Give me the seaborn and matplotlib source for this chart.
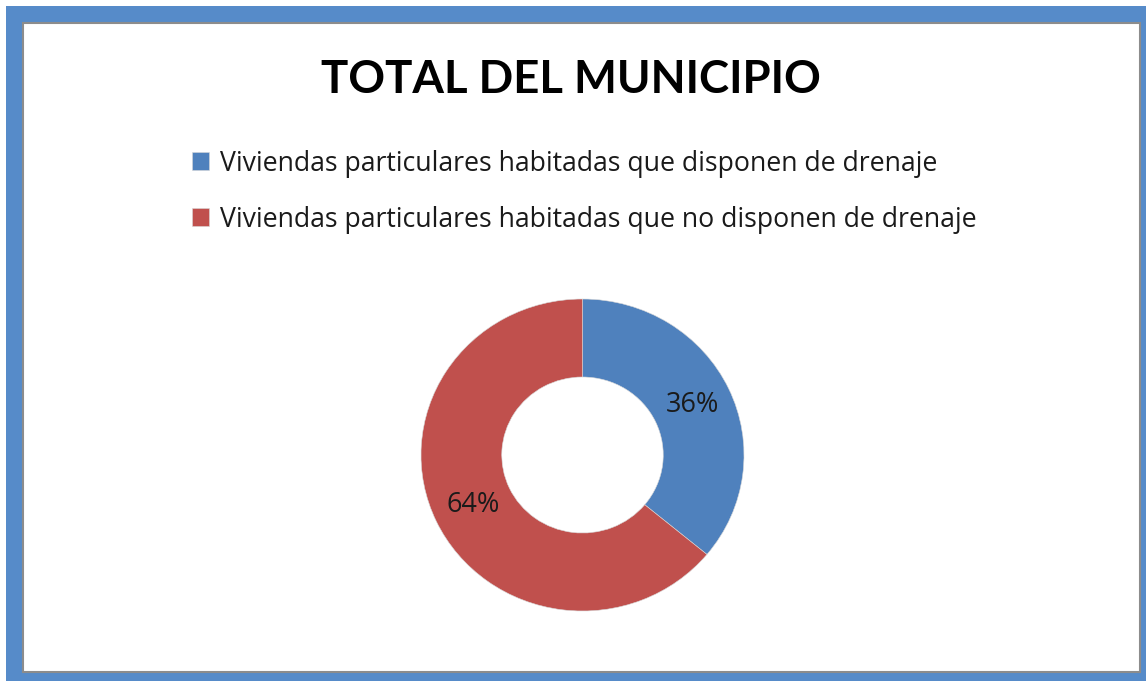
import matplotlib
matplotlib.use("Agg")
import matplotlib.pyplot as plt
import matplotlib.patches as mpatches
import seaborn as sns

# datos
categorias = ["Viviendas particulares habitadas que disponen de drenaje",
              "Viviendas particulares habitadas que no disponen de drenaje"]
porcentajes = [36, 64]
colores = ["#4F81BD", "#C0504D"]
titulo = "TOTAL DEL MUNICIPIO"

sns.set_theme(style="white")
plt.rcParams["font.family"] = ["Lato", "DejaVu Sans"]

W, H = 1146, 681
fig = plt.figure(figsize=(W / 100, H / 100), dpi=100)
fig.patch.set_facecolor("white")

# marco azul y recuadro interior
fig.patches.append(mpatches.Rectangle((6 / W, 0), 1, 1 - 6 / H, transform=fig.transFigure,
                                      facecolor="#568BC9", edgecolor="none", zorder=-2))
fig.patches.append(mpatches.Rectangle((23 / W, 9 / H), (1140 - 23) / W, (672 - 23) / H,
                                      transform=fig.transFigure, facecolor="white",
                                      edgecolor="#8C8C8C", linewidth=1.5, zorder=-1))

# dona (un poco achatada, como en la imagen original)
cx, cy, rx, ry = 582.5, 455, 161.5, 156
ax = fig.add_axes([(cx - rx) / W, (H - cy - ry) / H, 2 * rx / W, 2 * ry / H])
ax.set_zorder(2)
ax.patch.set_alpha(0)
wedges, _, autotexts = ax.pie(porcentajes, colors=colores, startangle=90, counterclock=False,
                              autopct="%d%%", pctdistance=0.75, radius=1,
                              wedgeprops=dict(width=0.5, edgecolor="#d8d8d8", linewidth=0.4),
                              textprops=dict(fontsize=19.5, color="#1a1a1a",
                                             family=["Open Sans", "DejaVu Sans"]))
ax.set_xlim(-1, 1)
ax.set_ylim(-1, 1)
ax.set_aspect("auto")
ax.axis("off")

fig.text(571 / W, 1 - 80 / H, titulo, ha="center", va="center",
         fontsize=32.8, fontweight="bold", color="black")

leg = fig.legend(wedges, categorias, loc="upper left", bbox_to_anchor=(181 / W, 1 - 139 / H),
                 frameon=False, prop=dict(family=["Open Sans", "DejaVu Sans"], size=19.2),
                 handlelength=0.65, handleheight=0.65,
                 handletextpad=0.4, labelspacing=1.05, borderaxespad=0)
leg.set_zorder(3)
for t in leg.get_texts():
    t.set_color("#1a1a1a")

fig.savefig("out.png", dpi=100)
